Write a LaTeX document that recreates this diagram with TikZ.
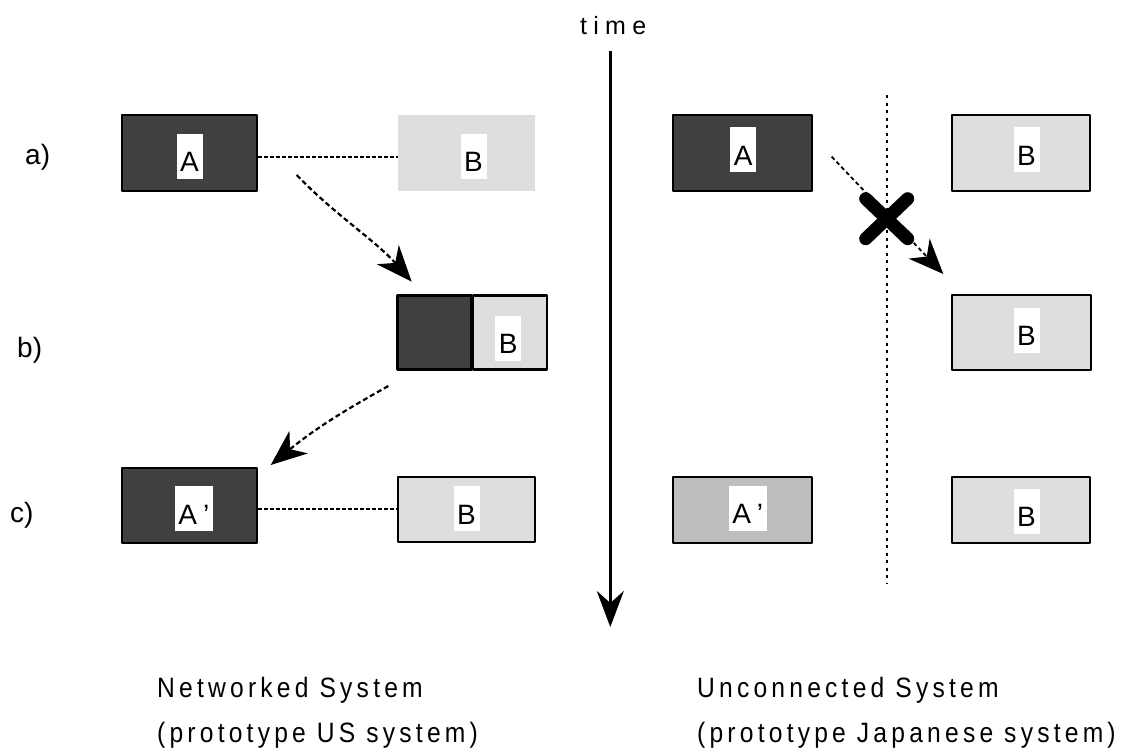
\documentclass[tikz,border=0pt]{standalone}
\usepackage{fontspec}
\setmainfont{Liberation Sans}
\newfontfamily\capfont{Liberation Sans}[FakeStretch=0.88,LetterSpace=15]
\newfontfamily\timefont{Liberation Sans}[LetterSpace=25]
\usetikzlibrary{arrows.meta}
\definecolor{darkfill}{RGB}{64,64,64}
\definecolor{lightfill}{RGB}{222,222,222}
\definecolor{midfill}{RGB}{190,190,190}

\begin{document}
\begin{tikzpicture}[x=1pt,y=-1pt,
  box/.style={rectangle, draw=black, line width=2.2pt, line join=round, inner sep=0pt},
  dark/.style={box, fill=darkfill},
  light/.style={box, fill=lightfill},
  mid/.style={box, fill=midfill},
  tag/.style={fill=white, inner sep=0pt, text height=38pt, text depth=7pt,
              minimum width=26pt, font=\fontsize{28}{32}\selectfont},
  widetag/.style={tag, minimum width=38pt},
  row/.style={anchor=base west, inner sep=0pt, font=\fontsize{28}{34}\selectfont},
  caption/.style={anchor=base west, inner sep=0pt, font={\capfont\fontsize{28}{34}\selectfont}},
  dotline/.style={line width=2pt, dash pattern=on 3.5pt off 2.5pt},
  moveline/.style={line width=2.2pt, dash pattern=on 5pt off 3pt,
                   -{Stealth[length=36pt,width=29pt,inset=11pt]}},
  lostline/.style={line width=1.8pt, dash pattern=on 4pt off 3pt,
                   -{Stealth[length=35pt,width=29pt,inset=11pt]}},
]
\useasboundingbox (0,0) rectangle (1135,755);

% time axis
\node[anchor=base west, inner sep=0pt, font={\timefont\fontsize{25}{30}\selectfont}] (timelbl) at (580,34) {time};
\coordinate (tS) at (610.3,51);
\coordinate (tE) at (610.3,627);
\draw[line width=2.8pt, -{Stealth[length=36pt,width=27pt,inset=12pt]}] (tS) -- (tE);

% row labels
\node[row] (rowa) at (25,164) {a)};
\node[row] (rowb) at (17,357) {b)};
\node[row] (rowc) at (10,522) {c)};

% ---- networked system ----
\node[dark, minimum width=135pt, minimum height=76pt] (nA1) at (189.5,153) {};
\node[rectangle, fill=lightfill, inner sep=0pt, minimum width=137pt, minimum height=76pt] (nB1) at (466.5,153) {};
\node[tag] (nA1t) at (189.5,156) {A};
\node[tag] (nB1t) at (473.5,156) {B};
\draw[dotline] ([yshift=-4pt]nA1.east) -- ([yshift=-4pt]nB1.west);

\node[dark, minimum width=74pt, minimum height=74pt] (nA2) at (434.5,332.5) {};
\node[light, minimum width=74pt, minimum height=74pt] (nB2) at (510.3,332.5) {};
\node[tag] (nB2t) at (508.3,338) {B};

\node[dark, minimum width=135pt, minimum height=75pt] (nA3) at (189.5,505.5) {};
\node[light, minimum width=137pt, minimum height=65pt] (nB3) at (466.5,509.5) {};
\node[widetag] (nA3t) at (193.8,508.5) {A\kern6pt'};
\node[tag] (nB3t) at (466.5,508.5) {B};
\draw[dotline] ([yshift=-3pt]nA3.east) -- ([yshift=-3pt]nA3.east -| nB3.west);

\coordinate (abS) at (296.7,175);
\coordinate (abE) at (411.7,281.7);
\draw[moveline] (abS) .. controls (335,215) and (375,240) .. (abE);
\coordinate (bcS) at (388.3,386);
\coordinate (bcE) at (270.7,465);
\draw[moveline] (bcS) .. controls (360,402) and (322,423) .. (bcE);

% ---- unconnected system ----
\coordinate (sT) at (886.7,95);
\coordinate (sB) at (886.7,583);
\draw[line width=2.4pt, dash pattern=on 3pt off 4.5pt] (sT) -- (sB);

\node[dark, minimum width=139pt, minimum height=76pt] (uA1) at (742.5,153) {};
\node[light, minimum width=138pt, minimum height=76pt] (uB1) at (1021,153) {};
\node[tag] (uA1t) at (743.3,149.5) {A};
\node[tag] (uB1t) at (1026.5,149.5) {B};

\node[light, minimum width=139pt, minimum height=75pt] (uB2) at (1021.5,332.5) {};
\node[tag] (uB2t) at (1026.5,330) {B};

\node[mid, minimum width=139pt, minimum height=66pt] (uA3) at (742.5,510) {};
\node[light, minimum width=138pt, minimum height=66pt] (uB3) at (1021,510) {};
\node[widetag] (uA3t) at (747.7,508.3) {A\kern6pt'};
\node[tag] (uB3t) at (1026.5,511) {B};

\coordinate (rS) at (831.7,156.7);
\coordinate (rE) at (943.3,274);
\draw[lostline] (rS) -- (rE);

% blocked transfer
\coordinate (xc) at (886.7,218.7);
\draw[line width=13pt, line cap=round] (xc) ++(-21,-20) -- ++(42,40);
\draw[line width=13pt, line cap=round] (xc) ++(-21,20) -- ++(42,-40);

% captions
\node[caption] (capN1) at (157,697) {Networked System};
\node[caption] (capN2) at (157,742) {(prototype US system)};
\node[caption] (capU1) at (697,697) {Unconnected System};
\node[caption] (capU2) at (697,742) {(prototype Japanese system)};
\end{tikzpicture}
\end{document}
